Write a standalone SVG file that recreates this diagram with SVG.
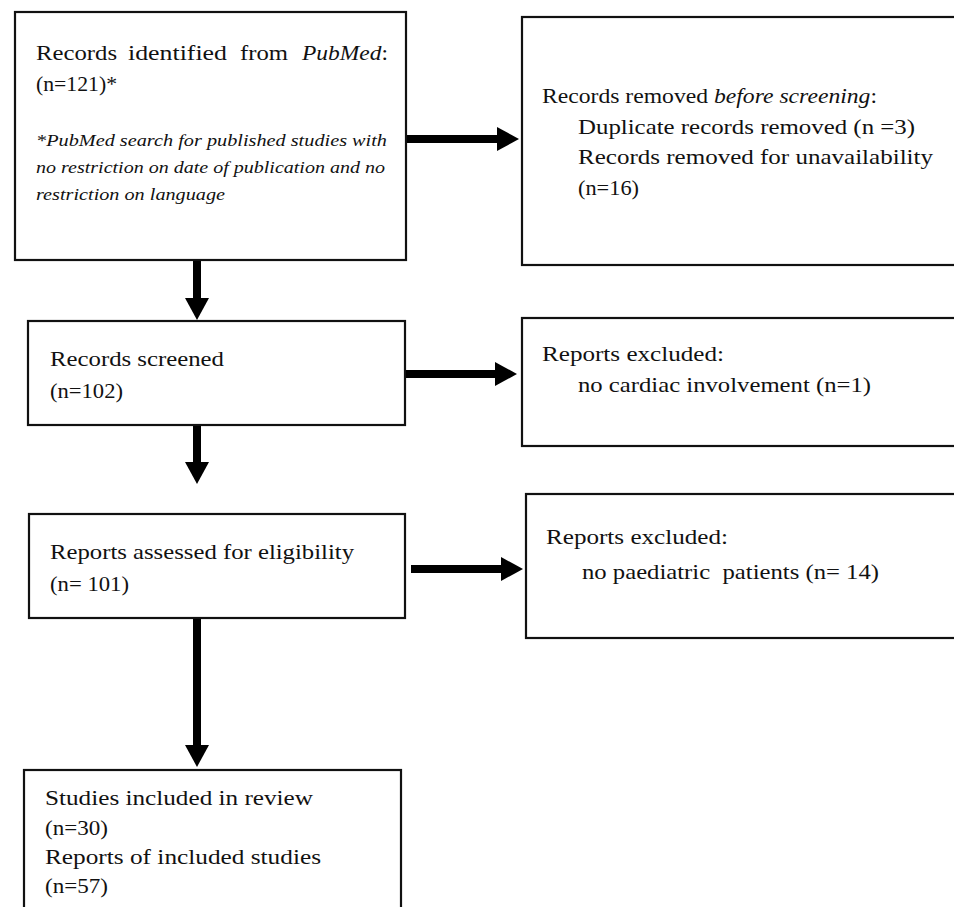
<svg xmlns="http://www.w3.org/2000/svg" width="954" height="907" viewBox="0 0 954 907">
<style>
.box{fill:#fff;stroke:#111;stroke-width:2.2}
.t{font-family:"Liberation Serif","Times New Roman",serif;font-size:22px;fill:#111}
.s{font-family:"Liberation Serif","Times New Roman",serif;font-size:17px;font-style:italic;fill:#111}
.i{font-style:italic}
.conn{stroke:#000;stroke-width:8;fill:none}
</style>
<defs>
<marker id="ah" markerUnits="userSpaceOnUse" markerWidth="22" markerHeight="24" refX="0" refY="12" orient="auto" viewBox="0 0 22 24">
<path d="M0,0 L22,12 L0,24 Z" fill="#000"/>
</marker>
</defs>
<rect width="954" height="907" fill="#fff"/>

<g id="connectors">
<line class="conn" x1="406" y1="139" x2="497" y2="139" marker-end="url(#ah)"/>
<line class="conn" x1="197" y1="261" x2="197" y2="298" marker-end="url(#ah)"/>
<line class="conn" x1="405" y1="374" x2="495" y2="374" marker-end="url(#ah)"/>
<line class="conn" x1="197" y1="426" x2="197" y2="462" marker-end="url(#ah)"/>
<line class="conn" x1="411" y1="569" x2="501" y2="569" marker-end="url(#ah)"/>
<line class="conn" x1="197" y1="619" x2="197" y2="745" marker-end="url(#ah)"/>
</g>

<g id="identified">
<rect class="box" x="15" y="12" width="391" height="248"/>
<text class="t" x="36" y="60" textLength="81" lengthAdjust="spacingAndGlyphs">Records</text>
<text class="t" x="128" y="60" textLength="99" lengthAdjust="spacingAndGlyphs">identified</text>
<text class="t" x="240" y="60" textLength="48" lengthAdjust="spacingAndGlyphs">from</text>
<text class="t" x="302" y="60" textLength="86" lengthAdjust="spacingAndGlyphs"><tspan class="i">PubMed</tspan>:</text>
<text class="t" x="36" y="91" textLength="81" lengthAdjust="spacingAndGlyphs">(n=121)*</text>
<text class="s" x="36" y="146" textLength="351" lengthAdjust="spacingAndGlyphs">*PubMed search for published studies with</text>
<text class="s" x="36" y="173" textLength="349" lengthAdjust="spacingAndGlyphs">no restriction on date of publication and no</text>
<text class="s" x="36" y="200" textLength="189" lengthAdjust="spacingAndGlyphs">restriction on language</text>
</g>

<g id="removed">
<rect class="box" x="522" y="17" width="450" height="248"/>
<text class="t" x="542" y="103" textLength="335" lengthAdjust="spacingAndGlyphs">Records removed <tspan class="i">before screening</tspan>:</text>
<text class="t" x="578" y="134" textLength="337" lengthAdjust="spacingAndGlyphs">Duplicate records removed (n =3)</text>
<text class="t" x="578" y="164" textLength="355" lengthAdjust="spacingAndGlyphs">Records removed for unavailability</text>
<text class="t" x="578" y="195" textLength="61" lengthAdjust="spacingAndGlyphs">(n=16)</text>
</g>

<g id="screened">
<rect class="box" x="28" y="321" width="377" height="104"/>
<text class="t" x="50" y="366" textLength="174" lengthAdjust="spacingAndGlyphs">Records screened</text>
<text class="t" x="50" y="398" textLength="73" lengthAdjust="spacingAndGlyphs">(n=102)</text>
</g>

<g id="excluded1">
<rect class="box" x="522" y="318" width="450" height="128"/>
<text class="t" x="542" y="361" textLength="182" lengthAdjust="spacingAndGlyphs">Reports excluded:</text>
<text class="t" x="578" y="392" textLength="293" lengthAdjust="spacingAndGlyphs">no cardiac involvement (n=1)</text>
</g>

<g id="assessed">
<rect class="box" x="29" y="514" width="376" height="104"/>
<text class="t" x="50" y="559" textLength="304" lengthAdjust="spacingAndGlyphs">Reports assessed for eligibility</text>
<text class="t" x="50" y="591" textLength="79" lengthAdjust="spacingAndGlyphs">(n= 101)</text>
</g>

<g id="excluded2">
<rect class="box" x="526" y="494" width="450" height="144"/>
<text class="t" x="546" y="544" textLength="182" lengthAdjust="spacingAndGlyphs">Reports excluded:</text>
<text class="t" x="582" y="579" textLength="297" lengthAdjust="spacingAndGlyphs" xml:space="preserve">no paediatric  patients (n= 14)</text>
</g>

<g id="included">
<rect class="box" x="24" y="770" width="377" height="160"/>
<text class="t" x="45" y="805" textLength="268" lengthAdjust="spacingAndGlyphs">Studies included in review</text>
<text class="t" x="45" y="835" textLength="63" lengthAdjust="spacingAndGlyphs">(n=30)</text>
<text class="t" x="45" y="864" textLength="276" lengthAdjust="spacingAndGlyphs">Reports of included studies</text>
<text class="t" x="45" y="893" textLength="63" lengthAdjust="spacingAndGlyphs">(n=57)</text>
</g>
</svg>
